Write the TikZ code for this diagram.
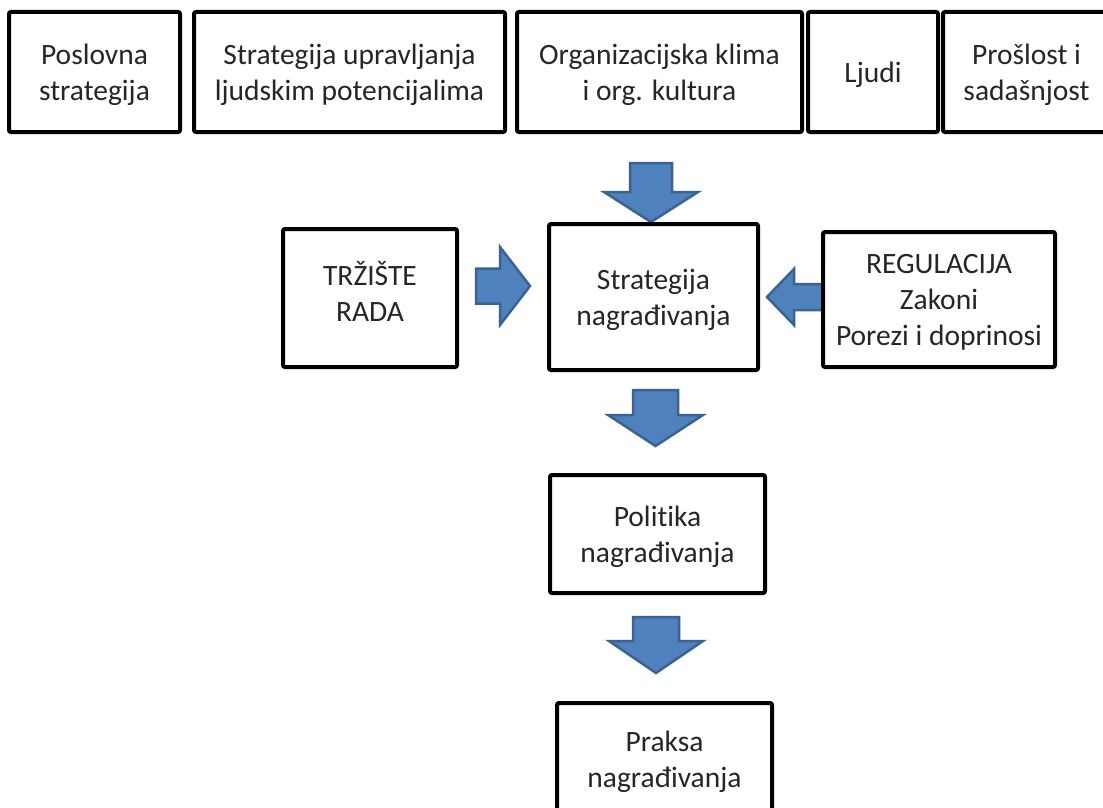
\documentclass[tikz,border=0pt]{standalone}
\usepackage{fontspec}
\setmainfont{Carlito}[Ligatures=NoCommon]
\usetikzlibrary{calc, backgrounds}

\definecolor{arrowblue}{HTML}{4F81BD}
\definecolor{arrowedge}{HTML}{3A6293}

% block arrow: #1 start, #2 tip, #3 half shaft, #4 half head, #5 head length
\newcommand{\blockarrow}[5]{%
  \coordinate (hb) at ($(#2)!#5!(#1)$);
  \draw[bigarrow] ($(#1)!#3!90:(#2)$) -- ($(hb)!#3!90:(#2)$) -- ($(hb)!#4!90:(#2)$) -- (#2)
    -- ($(hb)!#4!-90:(#2)$) -- ($(hb)!#3!-90:(#2)$) -- ($(#1)!#3!-90:(#2)$) -- cycle;
}

\begin{document}
\begin{tikzpicture}[
		x=1pt, y=-1pt,
		font=\fontsize{29.5}{36}\selectfont,
		box/.style={draw, line width=4pt, rounded corners=2pt, fill=white, align=center, inner sep=0pt, text=black!85, text depth=-2pt},
		topbox/.style={box, minimum height=120pt, text depth=-7pt},
		bigarrow/.style={fill=arrowblue, draw=arrowedge, line width=2.5pt, line join=miter}
		]
		\useasboundingbox (0,0) rectangle (1103,808);
		
		% Top row
		\node[topbox, minimum width=171pt] (posl) at (94.5,72) {Poslovna\\strategija};
		\node[topbox, minimum width=311pt] (sulp) at (349.5,72) {Strategija upravljanja\\ljudskim potencijalima};
		\node[topbox, minimum width=285pt] (klima) at (659.5,72) {Organizacijska klima\\i org. kultura};
		\node[topbox, minimum width=130pt] (ljudi) at (873,72) {Ljudi};
		\node[topbox, minimum width=167pt] (proslost) at (1026.5,72) {Prošlost i\\sadašnjost};
		
		% Middle row
		\node[box, minimum width=174pt, minimum height=138pt, text depth=13pt] (trziste) at (370,298) {TRŽIŠTE\\RADA};
		\node[box, minimum width=209pt, minimum height=146pt] (strat) at (653.5,297) {Strategija\\nagrađivanja};
		\node[box, minimum width=232pt, minimum height=135pt] (reg) at (939,299.5) {REGULACIJA\\Zakoni\\Porezi i doprinosi};
		
		% Policy and practice
		\node[box, minimum width=215pt, minimum height=118pt] (pol) at (657.5,534) {Politika\\nagrađivanja};
		\node[box, minimum width=215pt, minimum height=112pt] (praksa) at (664.5,759) {Praksa\\nagrađivanja};
		
		% Arrow ends
		\coordinate (a1) at (651,163);
		\coordinate (a1tip) at (strat.north -| a1);
		\coordinate (a2) at (476,286);
		\coordinate (a2tip) at ($(strat.west |- a2)+(-17,0)$);
		\coordinate (a3) at (840,297);
		\coordinate (a3tip) at ($(strat.east |- a3)+(7,0)$);
		\coordinate (a4) at ($(strat.south)+(2,18)$);
		\coordinate (a4tip) at ($(pol.north -| a4)+(0,-27)$);
		\coordinate (a5) at ($(pol.south)+(-1.5,22)$);
		\coordinate (a5tip) at ($(praksa.north -| a5)+(0,-28)$);
		
		% Arrows
		\begin{scope}[on background layer]
			\blockarrow{a1}{a1tip}{21pt}{47pt}{30pt}
			\blockarrow{a2}{a2tip}{17.5pt}{39pt}{30pt}
			\blockarrow{a3}{a3tip}{13pt}{28pt}{27pt}
			\blockarrow{a4}{a4tip}{22.5pt}{47.5pt}{31pt}
			\blockarrow{a5}{a5tip}{23pt}{47pt}{32pt}
		\end{scope}
		
	\end{tikzpicture}
\end{document}
